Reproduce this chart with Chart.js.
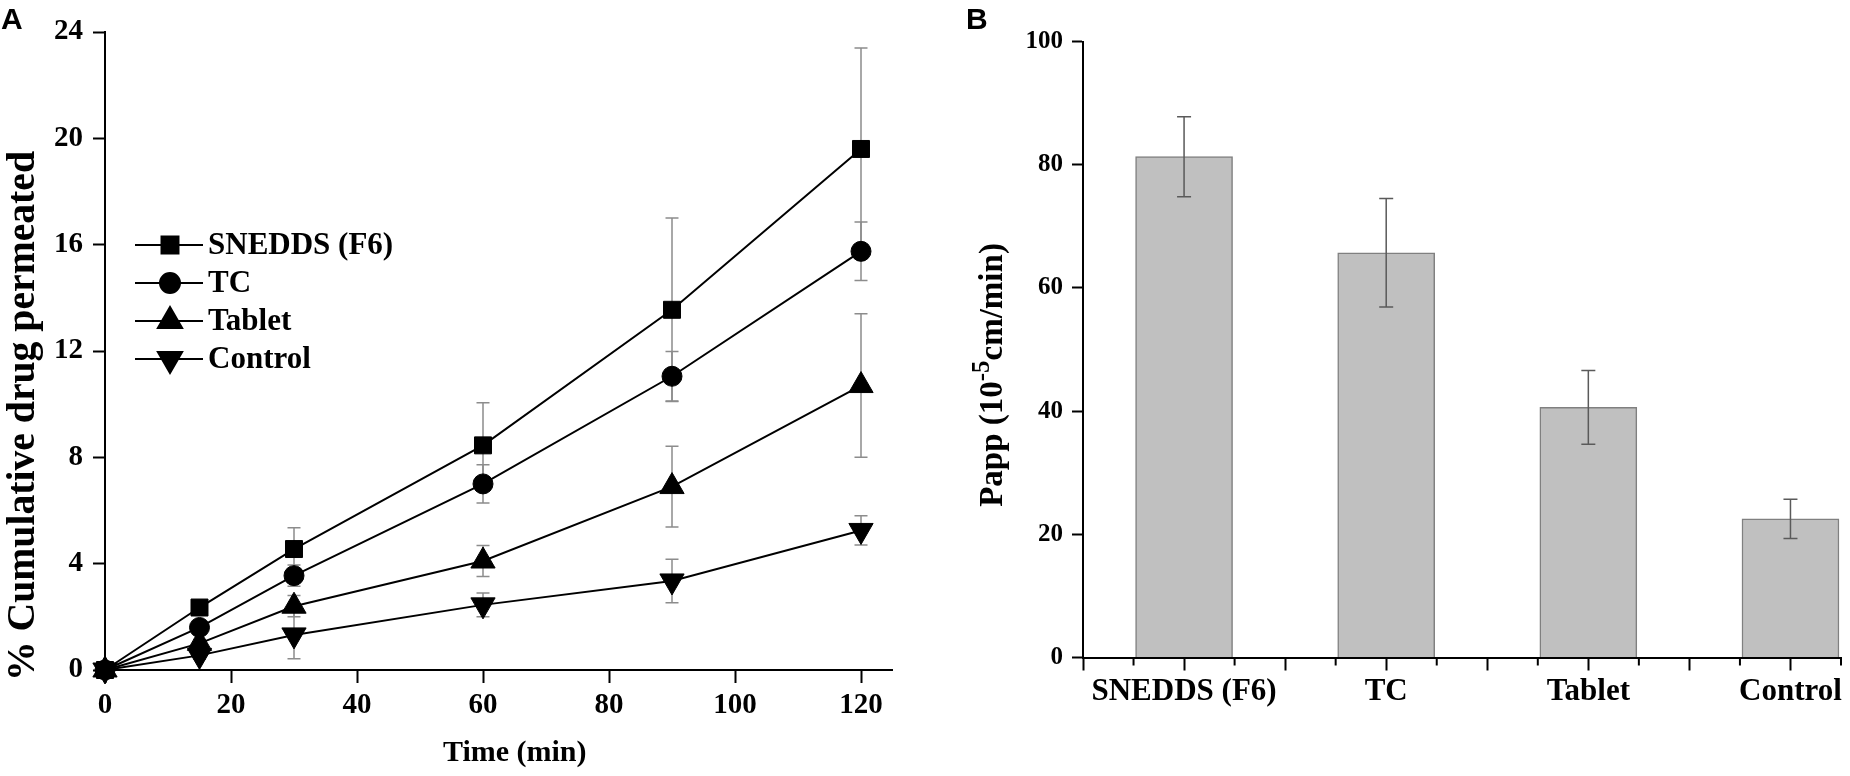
<!DOCTYPE html>
<html>
<head>
<meta charset="utf-8">
<script src="https://cdn.jsdelivr.net/npm/chart.js@4.4.1/dist/chart.umd.min.js"></script>
<style>
  html, body { margin: 0; padding: 0; background: #fff; }
  #wrap { position: relative; width: 1850px; height: 776px; overflow: hidden; }
  .panel { position: absolute; top: 0; height: 776px; }
  #left { left: 0; width: 940px; }
  #right { left: 940px; width: 910px; }
</style>
</head>
<body>
<div id="wrap">
  <div class="panel" id="left"><canvas id="perm-chart" width="940" height="776"></canvas></div>
  <div class="panel" id="right"><canvas id="papp-chart" width="910" height="776"></canvas></div>
</div>
<script>
// --- panel A: cumulative permeation vs time ---
const times = [0, 15, 30, 60, 90, 120];
const timeTicks = [0, 20, 40, 60, 80, 100, 120];
const seriesNames = ["SNEDDS (F6)", "TC", "Tablet", "Control"];
const sneddsMean = [0, 2.35, 4.55, 8.45, 13.55, 19.6];
const sneddsSd = [0, 0.2, 0.8, 1.6, 3.45, 3.8];
const tcMean = [0, 1.6, 3.55, 7.0, 11.05, 15.75];
const tcSd = [0, 0.2, 0.4, 0.72, 0.93, 1.1];
const tabletMean = [0, 1.0, 2.4, 4.1, 6.9, 10.7];
const tabletSd = [0, 0.15, 0.4, 0.58, 1.52, 2.7];
const controlMean = [0, 0.55, 1.32, 2.45, 3.35, 5.25];
const controlSd = [0, 0.15, 0.9, 0.45, 0.82, 0.55];

// --- panel B: apparent permeability ---
const formulations = ["SNEDDS (F6)", "TC", "Tablet", "Control"];
const papp = [81.3, 65.7, 40.6, 22.5];
const pappSd = [6.5, 8.8, 6.0, 3.2];
const pappXTicks = [0.5, 0.75, 1, 1.25, 1.5, 1.75, 2, 2.25, 2.5, 2.75, 3, 3.25, 3.5, 3.75, 4, 4.25];

const SERIF = "'Liberation Serif', 'Times New Roman', serif";
const SANS = "'Liberation Sans', Arial, sans-serif";

// marker style per series
const markers = [
  { style: "rect", radius: 12, rotation: 0 },
  { style: "circle", radius: 10, rotation: 0 },
  { style: "triangle", radius: 14, rotation: 0 },
  { style: "triangle", radius: 14, rotation: 180 },
];
const means = [sneddsMean, tcMean, tabletMean, controlMean];
const sds = [sneddsSd, tcSd, tabletSd, controlSd];

function drawErrorBar(ctx, px, top, bot, cap) {
  ctx.beginPath();
  ctx.moveTo(px, top); ctx.lineTo(px, bot);
  ctx.moveTo(px - cap, top); ctx.lineTo(px + cap, top);
  ctx.moveTo(px - cap, bot); ctx.lineTo(px + cap, bot);
  ctx.stroke();
}

// error bars behind the lines
const permErrorBars = {
  id: "permErrorBars",
  beforeDatasetsDraw(chart) {
    const { ctx, scales: { x, y } } = chart;
    ctx.save();
    ctx.strokeStyle = "#8c8c8c";
    ctx.lineWidth = 1.5;
    chart.data.datasets.forEach((ds, d) => {
      ds.data.forEach((p, i) => {
        const sd = sds[d][i];
        if (!sd) return;
        drawErrorBar(ctx, x.getPixelForValue(p.x), y.getPixelForValue(p.y + sd), y.getPixelForValue(p.y - sd), 6.5);
      });
    });
    ctx.restore();
  },
};

// legend, axis titles, panel letter
const permDecor = {
  id: "permDecor",
  afterDraw(chart) {
    const { ctx, chartArea: a } = chart;
    ctx.save();
    ctx.fillStyle = "#000";
    // panel letter
    ctx.font = "bold 30px " + SANS;
    ctx.textAlign = "left";
    ctx.textBaseline = "alphabetic";
    ctx.fillText("A", 1, 29);

    // legend
    ctx.font = "bold 31px " + SERIF;
    ctx.textBaseline = "middle";
    chart.data.datasets.forEach((ds, i) => {
      const ly = a.top + 213 + i * 38;
      ctx.strokeStyle = "#000";
      ctx.lineWidth = 2;
      ctx.beginPath();
      ctx.moveTo(a.left + 30, ly); ctx.lineTo(a.left + 98, ly);
      ctx.stroke();
      Chart.helpers.drawPoint(ctx, {
        pointStyle: ds.pointStyle, radius: ds.pointRadius, rotation: ds.pointRotation, borderWidth: 1,
      }, a.left + 65, ly);
      ctx.fill();
      ctx.fillText(ds.label, a.left + 103, ly + 1);
    });

    // y title
    ctx.save();
    ctx.translate(34, 416);
    ctx.rotate(-Math.PI / 2);
    ctx.font = "bold 40px " + SERIF;
    ctx.textAlign = "center";
    ctx.textBaseline = "alphabetic";
    ctx.fillText("% Cumulative drug permeated", 0, 0, 530);
    ctx.restore();

    // x title
    ctx.font = "bold 30px " + SERIF;
    ctx.textAlign = "center";
    ctx.textBaseline = "middle";
    ctx.fillText("Time (min)", (a.left + a.right) / 2 + 16, 753);
    ctx.restore();
  },
};

new Chart(document.getElementById("perm-chart"), {
  type: "line",
  data: {
    datasets: seriesNames.map((name, i) => ({
      label: name,
      data: times.map((t, j) => ({ x: t, y: means[i][j] })),
      borderColor: "#000",
      borderWidth: 2,
      backgroundColor: "#000",
      pointStyle: markers[i].style,
      pointRadius: markers[i].radius,
      pointRotation: markers[i].rotation,
      pointBackgroundColor: "#000",
      pointBorderColor: "#000",
      pointBorderWidth: 1,
      tension: 0,
      clip: false,
    })),
  },
  options: {
    responsive: false,
    animation: false,
    devicePixelRatio: 1,
    layout: { padding: { top: 32, right: 47.5, left: 0, bottom: 0 } },
    plugins: { legend: { display: false }, tooltip: { enabled: false } },
    scales: {
      x: {
        type: "linear",
        min: 0,
        max: 125,
        afterBuildTicks: (s) => { s.ticks = timeTicks.map((v) => ({ value: v })); },
        afterFit: (s) => { s.height = 106; },
        border: { display: true, color: "#000", width: 2 },
        grid: { display: true, drawOnChartArea: false, drawTicks: true, tickLength: 13, tickColor: "#000", tickWidth: 2 },
        ticks: { color: "#000", font: { family: SERIF, size: 29, weight: "bold" }, padding: 5, maxRotation: 0, autoSkip: false },
      },
      y: {
        min: 0,
        max: 24,
        afterFit: (s) => { s.width = 105; },
        border: { display: true, color: "#000", width: 2 },
        grid: { display: true, drawOnChartArea: false, drawTicks: true, tickLength: 12, tickColor: "#000", tickWidth: 2 },
        ticks: { stepSize: 4, color: "#000", font: { family: SERIF, size: 29, weight: "bold" }, padding: 10 },
      },
    },
  },
  plugins: [permErrorBars, permDecor],
});

// --- panel B ---
const pappErrorBars = {
  id: "pappErrorBars",
  afterDatasetsDraw(chart) {
    const { ctx, scales: { x, y } } = chart;
    ctx.save();
    ctx.strokeStyle = "#5a5a5a";
    ctx.lineWidth = 1.5;
    chart.data.datasets[0].data.forEach((p, i) => {
      drawErrorBar(ctx, x.getPixelForValue(p.x), y.getPixelForValue(p.y + pappSd[i]), y.getPixelForValue(p.y - pappSd[i]), 7);
    });
    ctx.restore();
  },
};

const pappDecor = {
  id: "pappDecor",
  afterDraw(chart) {
    const { ctx, chartArea: a, scales: { x } } = chart;
    ctx.save();
    // minor ticks on the category axis
    ctx.strokeStyle = "#000";
    ctx.lineWidth = 2;
    x.ticks.forEach((t) => {
      if ((t.value * 2) % 1 === 0) return;
      const px = x.getPixelForValue(t.value);
      ctx.beginPath();
      ctx.moveTo(px, a.bottom); ctx.lineTo(px, a.bottom + 8);
      ctx.stroke();
    });

    ctx.fillStyle = "#000";
    ctx.font = "bold 30px " + SANS;
    ctx.textAlign = "left";
    ctx.textBaseline = "alphabetic";
    ctx.fillText("B", 26, 29);

    // y title with superscript
    ctx.translate(62, 375);
    ctx.rotate(-Math.PI / 2);
    ctx.textBaseline = "alphabetic";
    ctx.textAlign = "left";
    const big = "bold 33px " + SERIF, small = "bold 25px " + SERIF;
    const p1 = "Papp (10", p2 = "-5", p3 = "cm/min)";
    ctx.font = big; const w1 = ctx.measureText(p1).width, w3 = ctx.measureText(p3).width;
    ctx.font = small; const w2 = ctx.measureText(p2).width;
    let cx = -(w1 + w2 + w3) / 2;
    ctx.font = big; ctx.fillText(p1, cx, 0); cx += w1;
    ctx.font = small; ctx.fillText(p2, cx, -13); cx += w2;
    ctx.font = big; ctx.fillText(p3, cx, 0);
    ctx.restore();
  },
};

new Chart(document.getElementById("papp-chart"), {
  type: "bar",
  data: {
    datasets: [{
      label: "Papp",
      data: papp.map((v, i) => ({ x: i + 1, y: v })),
      backgroundColor: "#c0c0c0",
      borderColor: "#808080",
      borderWidth: 1.5,
      barThickness: 97,
    }],
  },
  options: {
    responsive: false,
    animation: false,
    devicePixelRatio: 1,
    layout: { padding: { top: 41.5, right: 9, left: 0, bottom: 0 } },
    plugins: { legend: { display: false }, tooltip: { enabled: false } },
    scales: {
      x: {
        type: "linear",
        offset: false,
        min: 0.5,
        max: 4.25,
        afterBuildTicks: (s) => { s.ticks = pappXTicks.map((v) => ({ value: v })); },
        afterFit: (s) => { s.height = 118.5; },
        border: { display: true, color: "#000", width: 2 },
        grid: {
          display: true, offset: false, drawOnChartArea: false, drawTicks: true, tickLength: 13, tickWidth: 2,
          tickColor: (c) => ((c.tick && (c.tick.value * 2) % 1 === 0) ? "#000" : "rgba(0,0,0,0)"),
        },
        ticks: {
          color: "#000", font: { family: SERIF, size: 31, weight: "bold" }, padding: 3, maxRotation: 0, autoSkip: false,
          callback: (v) => (Number.isInteger(v) ? formulations[v - 1] : ""),
        },
      },
      y: {
        min: 0,
        max: 100,
        afterFit: (s) => { s.width = 143; },
        border: { display: true, color: "#000", width: 2 },
        grid: { display: true, drawOnChartArea: false, drawTicks: true, tickLength: 11, tickColor: "#000", tickWidth: 2 },
        ticks: { stepSize: 20, color: "#000", font: { family: SERIF, size: 25, weight: "bold" }, padding: 9 },
      },
    },
  },
  plugins: [pappErrorBars, pappDecor],
});
</script>
</body>
</html>
